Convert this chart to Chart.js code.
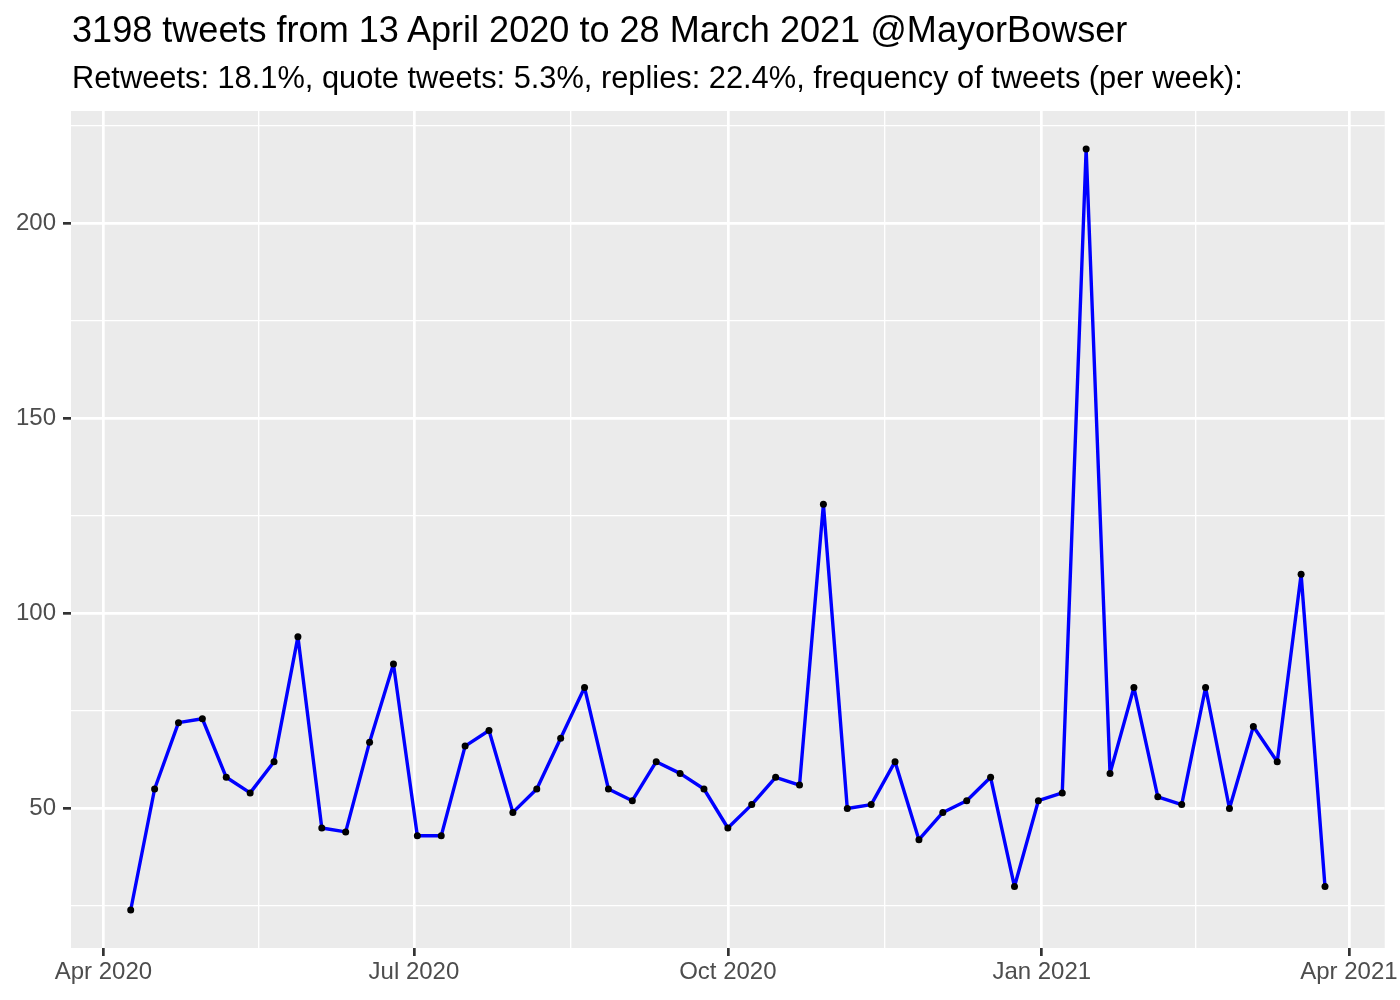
<!DOCTYPE html>
<html>
<head>
<meta charset="utf-8">
<script src="https://cdn.jsdelivr.net/npm/chart.js@4/dist/chart.umd.min.js"></script>
<style>
  html, body { margin: 0; padding: 0; background: #ffffff; }
  #wrap { position: relative; width: 1400px; height: 1000px; }
  canvas { position: absolute; left: 0; top: 0; }
  .t { position: absolute; left: 72px; white-space: nowrap; font-family: "Liberation Sans", Arial, Helvetica, sans-serif; color: #000; line-height: 1; }
  #title { font-size: 36.1px; top: 12px; }
  #subtitle { font-size: 30.8px; top: 63px; }
</style>
</head>
<body>
<div id="wrap">
  <canvas id="c" width="1400" height="1000"></canvas>
  <div class="t" id="title">3198 tweets from 13 April 2020 to 28 March 2021 @MayorBowser</div>
  <div class="t" id="subtitle">Retweets: 18.1%, quote tweets: 5.3%, replies: 22.4%, frequency of tweets (per week):</div>
</div>
<script>
// Week start dates as days since 1 April 2020 (weekly, 9 Apr 2020 .. 25 Mar 2021)
const weekDays = [8,15,22,29,36,43,50,57,64,71,78,85,92,99,106,113,120,127,134,141,148,155,162,169,176,183,190,197,204,211,218,225,232,239,246,253,260,267,274,281,288,295,302,309,316,323,330,337,344,351,358];
// Tweets per week
const tweetCounts = [24,55,72,73,58,54,62,94,45,44,67,87,43,43,66,70,49,55,68,81,55,52,62,59,55,45,51,58,56,128,50,51,62,42,49,52,58,30,52,54,219,59,81,53,51,81,50,71,62,110,30];
// X-axis tick labels and their positions (days since 1 April 2020)
const xTickLabels = ["Apr 2020","Jul 2020","Oct 2020","Jan 2021","Apr 2021"];
const xTickDays = [0,91,183,275,365];
const xMinorDays = [45.5,137,229,320];
// Y-axis ticks
const yMajorTicks = [50,100,150,200];
const yMinorTicks = [25,75,125,175,225];

const points = weekDays.map((d, i) => ({ x: d, y: tweetCounts[i] }));
const FONT = '"Liberation Sans", Arial, Helvetica, sans-serif';

const panelBg = {
  id: 'panelBg',
  beforeDraw(chart) {
    const a = chart.chartArea, ctx = chart.ctx;
    ctx.save();
    ctx.fillStyle = '#EBEBEB';
    ctx.fillRect(a.left, a.top, a.right - a.left, a.bottom - a.top);
    ctx.restore();
  }
};

function buildTicks(major, minor) {
  const arr = [];
  major.forEach(v => arr.push({ value: v, major: true }));
  minor.forEach(v => arr.push({ value: v, major: false }));
  arr.sort((a, b) => a.value - b.value);
  return arr;
}
function isMajor(ctx) { return ctx.tick && ctx.tick.major; }

new Chart(document.getElementById('c'), {
  type: 'line',
  data: {
    datasets: [{
      data: points,
      borderColor: '#0000FF',
      borderWidth: 3.4,
      borderJoinStyle: 'round',
      borderCapStyle: 'round',
      tension: 0,
      pointRadius: 3.5,
      pointHoverRadius: 3.5,
      pointBackgroundColor: '#000000',
      pointBorderWidth: 0,
      fill: false
    }]
  },
  options: {
    responsive: false,
    animation: false,
    events: [],
    layout: { padding: { top: 111, right: 15, left: 0, bottom: 0 } },
    plugins: { legend: { display: false }, tooltip: { enabled: false }, title: { display: false } },
    scales: {
      x: {
        type: 'linear',
        min: -9.5,
        max: 375.5,
        afterFit(scale) { scale.height = 52; },
        afterBuildTicks(scale) { scale.ticks = buildTicks(xTickDays, xMinorDays); },
        border: { display: false },
        grid: {
          color: '#FFFFFF',
          lineWidth: (ctx) => isMajor(ctx) ? 2.7 : 1.35,
          drawTicks: true,
          tickLength: 8,
          tickWidth: 2.7,
          tickColor: (ctx) => isMajor(ctx) ? '#333333' : 'rgba(0,0,0,0)'
        },
        ticks: {
          autoSkip: false,
          maxRotation: 0,
          padding: 2,
          color: '#4D4D4D',
          font: { family: FONT, size: 24 },
          callback: function (value) {
            const i = xTickDays.indexOf(value);
            return i >= 0 ? xTickLabels[i] : '';
          }
        }
      },
      y: {
        type: 'linear',
        min: 14.25,
        max: 228.75,
        afterFit(scale) { scale.width = 71; },
        afterBuildTicks(scale) { scale.ticks = buildTicks(yMajorTicks, yMinorTicks); },
        border: { display: false },
        grid: {
          color: '#FFFFFF',
          lineWidth: (ctx) => isMajor(ctx) ? 2.7 : 1.35,
          drawTicks: true,
          tickLength: 8,
          tickWidth: 2.7,
          tickColor: (ctx) => isMajor(ctx) ? '#333333' : 'rgba(0,0,0,0)'
        },
        ticks: {
          autoSkip: false,
          padding: 7,
          color: '#4D4D4D',
          font: { family: FONT, size: 24 },
          callback: function (value) {
            return yMajorTicks.indexOf(value) >= 0 ? String(value) : '';
          }
        }
      }
    }
  },
  plugins: [panelBg]
});
</script>
</body>
</html>
